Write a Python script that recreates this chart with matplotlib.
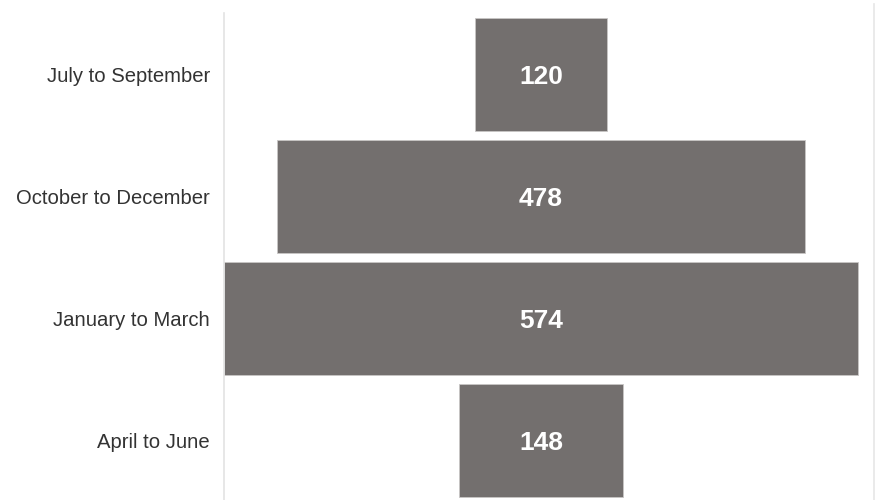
import numpy as np
import matplotlib.pyplot as plt
from matplotlib.lines import Line2D

stages = ["April to June", "January to March", "October to December", "July to September"]
counts = [148, 574, 478, 120]

bar_color = "#736f6e"

fig = plt.figure(figsize=(8.79, 5), dpi=100)
ax = fig.add_axes([224 / 879, 0, 650 / 879, 487 / 500])

y = np.arange(len(stages))
c = np.asarray(counts)
ax.barh(y, c, left=-c / 2, height=0.926, color=bar_color, edgecolor="#c8c6c5", linewidth=0.6)

for yi, v in zip(y, counts):
    ax.text(0, yi - 0.02, str(v), ha="center", va="center", color="white",
            fontsize=19, fontweight="bold",
            family=["Liberation Sans Narrow", "Liberation Sans", "DejaVu Sans"])

ax.set_xlim(-287, 301.5)
ax.set_ylim(-0.484, 3.508)
ax.set_yticks(y)
ax.set_yticklabels(stages, fontsize=14.6, color="#333333",
                   family=["Liberation Sans", "DejaVu Sans"])
ax.tick_params(axis="y", length=0, pad=10)
ax.set_xticks([])
for s in ["top", "bottom", "right"]:
    ax.spines[s].set_visible(False)
ax.spines["left"].set_color("#e3e3e3")
ax.spines["left"].set_linewidth(1.2)

# right border line reaches a bit higher
fig.add_artist(Line2D([874 / 879, 874 / 879], [0, 496 / 500], transform=fig.transFigure,
                      color="#e6e6e6", linewidth=1.2))

fig.savefig("out.png", dpi=100)
